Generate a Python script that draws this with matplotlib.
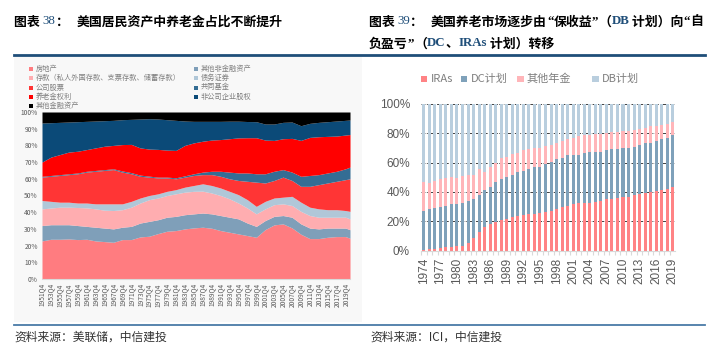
# -*- coding: utf-8 -*-
import numpy as np
import matplotlib as mpl
mpl.use('Agg')
import matplotlib.pyplot as plt
from matplotlib.patches import Rectangle
from matplotlib.lines import Line2D

#------------------ FONT_setup ----------------------
CJK = ['Noto Sans CJK SC', 'DejaVu Sans']
plt.rcParams['font.family'] = CJK
plt.rcParams['axes.unicode_minus'] = False

W, H = 713, 355

#------------------ Data: left chart (top edge of each layer, %) ----------------------
# readings every 2 years at 1951Q4, 1953Q4 ... 2019Q4, plus the last quarter
quarters = list(range(0, 280, 8)) + [276]
q_labels = ['%dQ4' % y for y in range(1951, 2020, 2)]

top_realestate = [22.8, 23.8, 23.8, 24.0, 23.6, 23.8, 22.8, 22.4, 22.0, 23.6,
                  23.6, 25.2, 25.6, 27.2, 28.6, 29.0, 30.0, 30.6, 31.0, 30.4,
                  29.0, 28.0, 27.0, 26.0, 25.0, 29.6, 32.4, 33.0, 30.6, 26.8,
                  24.2, 24.2, 25.0, 25.4, 25.4, 24.4]
top_other_nonfin = [32, 32.5, 32.5, 32.5, 32, 31.5, 31, 30.5, 30, 31,
                    31.5, 33.5, 34.5, 35.5, 37, 37.5, 38.5, 39, 39.5, 39,
                    38, 37, 36, 33.5, 31.5, 35, 37.5, 38, 37, 33,
                    30.5, 30, 30.5, 30.5, 30.5, 29.5]
top_deposits = [42, 42.5, 43, 43, 42.8, 42.6, 42, 41.2, 41, 41.5,
                43, 45.5, 47.5, 48.5, 50, 51, 52, 52.5, 52.6, 51.5,
                50, 48, 45.5, 42.5, 39, 42, 44.5, 45, 44, 40.5,
                38, 37, 37, 37, 37, 36]
top_debt = [47, 46.5, 46, 46, 45.5, 45.5, 45, 45, 45, 45,
            46.5, 48.5, 50, 51, 52.5, 53.5, 55, 56, 57, 56,
            54.5, 52.5, 50.5, 47.5, 43.5, 46.5, 48.5, 49, 49.5, 46,
            43, 42, 41.5, 41.5, 41, 40.5]
top_equity = [61, 61.5, 62, 62.5, 63, 64, 64.5, 65, 65.5, 64,
              63, 61.5, 61, 60.5, 60.5, 60, 61, 62, 62.5, 62.5,
              61.5, 60, 59, 58.5, 58, 57.5, 59, 61, 59, 55.5,
              55.5, 56.5, 57.5, 58.5, 59.5, 60]
top_mutual = [61.5, 62, 62.5, 63, 63.5, 64.5, 65, 65.5, 66, 64.7,
              63.7, 62.2, 61.6, 61, 61, 60.6, 61.8, 63, 64, 64.5,
              64.5, 64, 63.5, 63.5, 63, 63, 64.5, 65.5, 64, 61.5,
              62, 62.5, 63.5, 64.5, 66, 67]
top_pension = [70, 73, 74.5, 76, 76.5, 77.5, 78.5, 79.5, 80, 80.5,
               80.6, 78.5, 77.8, 77.6, 77.2, 77, 80, 81.5, 82.5, 83.2,
               83.5, 84, 84.5, 84.6, 84.6, 83.2, 83, 84, 84.2, 83,
               84.8, 85.2, 85.4, 85.6, 86.2, 86.5]
top_noncorp = [93.4, 93.6, 93.8, 94, 94.2, 94.4, 94.6, 94.8, 95, 95.4,
               95.6, 95.8, 96, 95.8, 95.4, 95, 94.6, 94.4, 94.4, 94.4,
               94.4, 94.5, 94.5, 94.3, 94.2, 92.8, 92.8, 93.8, 94, 91.8,
               93.2, 93.8, 94.2, 94.6, 95, 95.2]
top_other_fin = [100] * 36

left_names = ['房地产', '其他非金融资产', '存款（私人外国存款、支票存款、储蓄存款）', '债务证券',
              '公司股票', '共同基金', '养老金权利', '非公司企业股权', '其他金融资产']
left_colors = ['#FF7C80', '#7F9FB9', '#FFADB0', '#B0C7D8', '#FF3535',
               '#346D94', '#FF0000', '#0B4A78', '#000000']

#------------------ Data: right chart (share, %) ----------------------
years = list(range(1974, 2020))
iras = [0.2, 0.8, 1.2, 1.8, 2.2, 2.6, 3.0, 3.4, 5.0, 8.5,
        12.6, 16.0, 18.0, 19.4, 20.5, 21.7, 22.8, 23.5, 24.4, 24.6,
        24.6, 25.5, 26.0, 27.0, 28.4, 30.0, 30.7, 31.4, 32.3, 32.7,
        32.7, 33.2, 34.0, 35.0, 35.0, 35.9, 36.3, 36.8, 37.7, 38.6,
        39.5, 40.2, 40.9, 41.5, 42.0, 43.1]
dc_plan = [26.7, 27.6, 27.9, 28.2, 28.5, 28.8, 28.8, 29.3, 29.1, 26.7,
           25.5, 25.3, 25.1, 27.1, 28.3, 28.6, 28.9, 29.8, 30.0, 30.9,
           32.1, 31.6, 32.9, 33.7, 33.9, 33.4, 34.5, 33.8, 32.9, 33.9,
           34.3, 33.8, 33.0, 33.4, 34.1, 33.6, 33.9, 33.4, 33.0, 33.4,
           33.6, 33.4, 33.8, 34.3, 35.0, 35.5]
other_annuity = [19.6, 17.9, 18.5, 19.0, 18.7, 18.5, 17.6, 18.3, 17.4, 16.5,
                 17.2, 12.0, 14.0, 12.9, 14.6, 13.6, 14.4, 13.5, 14.0, 13.6,
                 13.1, 12.7, 12.4, 11.3, 11.3, 11.3, 10.6, 11.8, 12.9, 12.0,
                 11.8, 12.2, 12.2, 11.7, 11.5, 11.5, 11.3, 11.5, 11.7, 11.0,
                 10.6, 11.1, 10.6, 10.2, 9.5, 8.8]
db_plan = [53.5, 53.7, 52.4, 51.0, 50.6, 50.1, 50.6, 49.0, 48.5, 48.3,
           44.7, 46.7, 42.9, 40.6, 36.6, 36.1, 33.9, 33.2, 31.6, 30.9,
           30.2, 30.2, 28.7, 28.0, 26.4, 25.3, 24.2, 23.0, 21.9, 21.4,
           21.2, 20.8, 20.8, 19.9, 19.4, 19.0, 18.5, 18.3, 17.6, 17.0,
           16.3, 15.3, 14.7, 14.0, 13.5, 12.6]
right_names = ['IRAs', 'DC计划', '其他年金', 'DB计划']
right_colors = ['#FF8385', '#7FA1BA', '#FFB5B9', '#B9CEDE']

#------------------ Figure Setup ----------------------
fig = plt.figure(figsize=(W / 100, H / 100), dpi=100)
fig.patch.set_facecolor('white')

def px(x, y):
    return x / W, 1 - y / H

# light panel behind the left chart
fig.patches.append(Rectangle(px(14, 322), 348 / W, 265 / H, transform=fig.transFigure,
                             facecolor='#F8F8F8', edgecolor='none', zorder=-5))
# header / footer rules
fig.add_artist(Line2D([14 / W, 705 / W], [1 - 54.5 / H] * 2, color='#1F4E79', lw=2.0))
fig.add_artist(Line2D([14 / W, 705 / W], [1 - 325 / H] * 2, color='#4A7BA7', lw=1.3))

renderer = fig.canvas.get_renderer()

def rich(x, y, parts, size=9.3):
    # draw text pieces one after another
    for s, color, fam, weight in parts:
        t = fig.text(*px(x, y), s, color=color, family=fam, weight=weight,
                     fontsize=size, va='center', ha='left')
        x += t.get_window_extent(renderer=renderer).width

SER = ['Liberation Serif', 'DejaVu Serif']
NAVY = '#1F4E79'
K = 'black'
rich(14, 21.5, [('图表 ', K, CJK, 'bold'), ('38', NAVY, SER, 'normal'),
                ('：', K, CJK, 'bold')])
rich(77, 21.5, [('美国居民资产中养老金占比不断提升', K, CJK, 'bold')])
rich(369, 21.5, [('图表 ', K, CJK, 'bold'), ('39', NAVY, SER, 'normal'),
                 ('：', K, CJK, 'bold')])
rich(431, 21.5, [('美国养老市场逐步由', K, CJK, 'bold'), ('“', K, SER, 'bold'),
                 ('保收益', K, CJK, 'bold'), ('”', K, SER, 'bold'), ('（', K, CJK, 'bold'),
                 ('DB', NAVY, SER, 'bold'), (' 计划）向', K, CJK, 'bold'),
                 ('“', K, SER, 'bold'), ('自', K, CJK, 'bold')])
rich(369, 43.5, [('负盈亏', K, CJK, 'bold'), ('”', K, SER, 'bold'), ('（', K, CJK, 'bold'),
                 ('DC', NAVY, SER, 'bold'), ('、', K, CJK, 'bold'),
                 ('IRAs', NAVY, SER, 'bold'), (' 计划）转移', K, CJK, 'bold')])

fig.text(*px(14, 337), '资料来源：美联储，中信建投', fontsize=8.5, color='#333333', va='center')
fig.text(*px(370, 337), '资料来源：ICI，中信建投', fontsize=8.5, color='#333333', va='center')

#------------------ Left chart ----------------------
axL = fig.add_axes([42 / W, 1 - 279 / H, 308 / W, 167 / H])
axL.set_facecolor('none')
tops = [top_realestate, top_other_nonfin, top_deposits, top_debt, top_equity,
        top_mutual, top_pension, top_noncorp, top_other_fin]
lower = np.zeros(len(quarters))
for top, c in zip(tops, left_colors):
    axL.fill_between(quarters, lower, top, color=c, lw=0)
    lower = np.array(top, dtype=float)
axL.set_xlim(0, quarters[-1])
axL.set_ylim(0, 100)
axL.set_yticks(range(0, 101, 10))
axL.set_yticklabels(['%d%%' % v for v in range(0, 101, 10)])
axL.set_xticks(quarters[:-1])
axL.set_xticklabels(q_labels, rotation=90)
axL.tick_params(axis='both', length=0, labelsize=4.8, labelcolor='#595959', pad=3)
for s in ['top', 'right', 'left']:
    axL.spines[s].set_visible(False)
axL.spines['bottom'].set_color('#D9D9D9')

# legend, two columns filled row by row
for i, (name, c) in enumerate(zip(left_names, left_colors)):
    col, row = i % 2, i // 2
    x0 = 29 if col == 0 else 194
    y0 = 69.3 + row * 9.1
    fig.patches.append(Rectangle(px(x0, y0 + 2), 4 / W, 4 / H, transform=fig.transFigure,
                                 facecolor=c, edgecolor='none'))
    fig.text(*px(x0 + 7, y0), name, fontsize=5.2, color='#7F7F7F', va='center')

#------------------ Right chart ----------------------
axR = fig.add_axes([421 / W, 1 - 250.5 / H, 254 / W, 146.5 / H])
xr = np.arange(len(years))
bottom = np.zeros(len(years))
for vals, c in zip([iras, dc_plan, other_annuity, db_plan], right_colors):
    axR.bar(xr, vals, bottom=bottom, width=0.55, color=c, lw=0, zorder=2)
    bottom = bottom + np.array(vals)
axR.set_xlim(-0.4, len(years) - 0.6)
axR.set_ylim(0, 100)
axR.set_yticks(range(0, 101, 20))
axR.set_yticklabels(['%d%%' % v for v in range(0, 101, 20)])
axR.yaxis.grid(True, linestyle=(0, (4, 1.5, 1, 1.5)), color='#404040', lw=0.7, zorder=0)
axR.set_axisbelow(True)
axR.set_xticks(xr - 0.5)
axR.set_xticklabels([str(y) if (y - 1974) % 3 == 0 else '' for y in years], rotation=90)
axR.tick_params(axis='x', length=3, color='#D9D9D9', labelsize=8.5, labelcolor='#595959', pad=2)
axR.tick_params(axis='y', length=0, labelsize=8.5, labelcolor='#595959', pad=8)
for lab in axR.get_xticklabels() + axR.get_yticklabels():
    lab.set_family(['Liberation Sans', 'DejaVu Sans'])
for s in ['top', 'right', 'left']:
    axR.spines[s].set_visible(False)
axR.spines['bottom'].set_color('#D9D9D9')

# labels sit under bar centres, ticks between bars
shift = mpl.transforms.ScaledTranslation(0.5 * 254 / 45.8 / 100, 0, fig.dpi_scale_trans)
for t in axR.xaxis.get_major_ticks():
    t.label1.set_transform(t.label1.get_transform() + shift)

legend_x = [421, 461, 517, 592]
for name, c, x0 in zip(right_names, right_colors, legend_x):
    fig.patches.append(Rectangle(px(x0, 82), 6.5 / W, 6.5 / H, transform=fig.transFigure,
                                 facecolor=c, edgecolor='none'))
    fig.text(*px(x0 + 9.5, 78.5), name, fontsize=8, color='#7F7F7F', va='center')

plt.savefig('out.png', dpi=100)
